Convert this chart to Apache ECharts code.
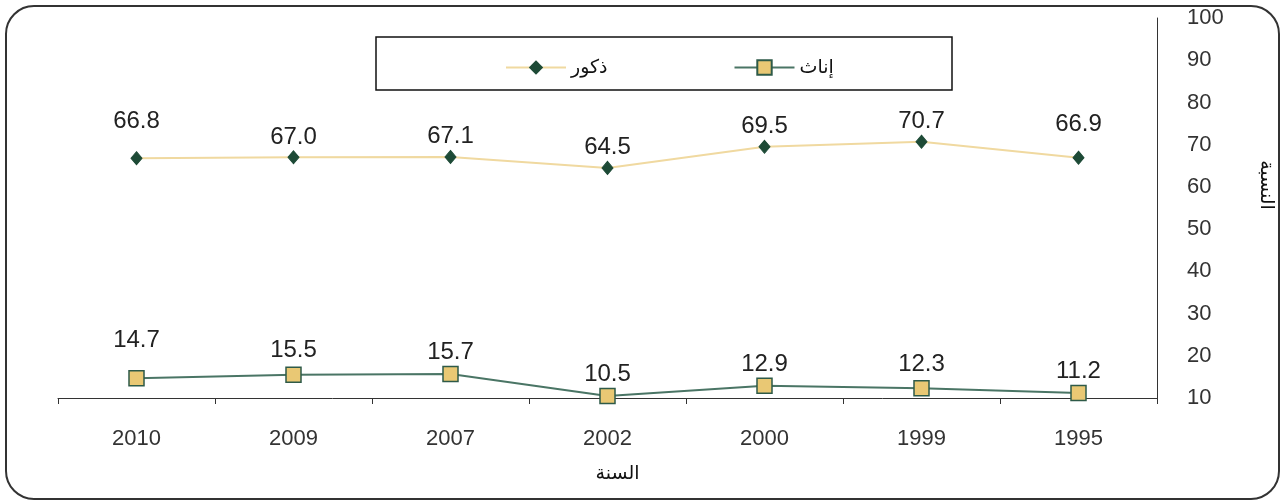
<!DOCTYPE html>
<html>
<head>
<meta charset="utf-8">
<script src="https://cdn.jsdelivr.net/npm/echarts@6/dist/echarts.min.js"></script>
<style>
html,body{margin:0;padding:0;background:#fff;}
#main{width:1283px;height:503px;}
</style>
</head>
<body>
<div id="main"></div>
<script>
// السنوات كما تظهر من اليسار إلى اليمين
var years = ['2010', '2009', '2007', '2002', '2000', '1999', '1995'];
var males = [66.8, 67.0, 67.1, 64.5, 69.5, 70.7, 66.9];
var females = [14.7, 15.5, 15.7, 10.5, 12.9, 12.3, 11.2];
var yTicks = [10, 20, 30, 40, 50, 60, 70, 80, 90, 100];

var myChart = echarts.init(document.getElementById('main'));
var narrow = '"Liberation Sans Narrow", "Liberation Sans", Arial, sans-serif';
var arabic = '"Noto Sans", "DejaVu Sans", sans-serif';

// بعض التسميات مرفوعة أكثر من غيرها في الأصل
var maleLift = {0: 17, 6: 13};
var femaleLift = {0: 17, 1: 3, 5: 3};

function mk(arr, lift) {
    return arr.map(function (v, i) {
        var d = {value: v};
        if (lift[i]) d.label = {offset: [0, -lift[i]]};
        return d;
    });
}

var labelStyle = {
    show: true,
    position: 'top',
    distance: 1,
    fontFamily: narrow,
    fontSize: 24,
    color: '#222',
    formatter: function (p) { return p.value.toFixed(1); }
};

option = {
    animation: false,
    backgroundColor: '#fff',
    grid: {left: 58, right: 126, top: 18, bottom: 105, outerBoundsMode: 'none', containLabel: false},
    legend: {
        data: ['ذكور', 'إناث'],
        left: 500,
        top: 53,
        itemWidth: 60,
        itemHeight: 18,
        itemGap: 126,
        textStyle: {fontFamily: arabic, fontSize: 19, color: '#111'}
    },
    xAxis: {
        type: 'category',
        data: years,
        name: 'السنة',
        nameLocation: 'middle',
        nameGap: 66,
        nameTextStyle: {fontFamily: arabic, fontSize: 19, color: '#111', padding: [0, 0, 0, 20]},
        axisLine: {lineStyle: {color: '#333', width: 1}},
        axisTick: {show: true, length: 6, lineStyle: {color: '#333'}},
        axisLabel: {margin: 30, fontFamily: narrow, fontSize: 22, color: '#333'}
    },
    yAxis: {
        type: 'value',
        position: 'right',
        min: 10,
        max: 100,
        interval: 10,
        name: 'النسبة',
        nameLocation: 'middle',
        nameGap: 100,
        nameRotate: -90,
        nameTextStyle: {fontFamily: arabic, fontSize: 19, color: '#111', padding: [0, 46, 0, 0]},
        splitLine: {show: false},
        axisLine: {show: true, lineStyle: {color: '#333', width: 1}},
        axisTick: {show: false},
        axisLabel: {
            margin: 30,
            fontFamily: narrow,
            fontSize: 22,
            color: '#333',
            formatter: function (v) { return yTicks.indexOf(v) >= 0 ? v : ''; }
        }
    },
    series: [
        {
            name: 'ذكور',
            type: 'line',
            data: mk(males, maleLift),
            symbol: 'diamond',
            symbolSize: [11, 13],
            itemStyle: {color: '#1d4a36', borderColor: '#1d4a36'},
            lineStyle: {color: '#f0d9a0', width: 2},
            label: labelStyle
        },
        {
            name: 'إناث',
            type: 'line',
            data: mk(females, femaleLift),
            symbol: 'rect',
            symbolSize: 15,
            itemStyle: {color: '#e9c874', borderColor: '#2e5a48', borderWidth: 1.5},
            lineStyle: {color: '#4a7565', width: 2},
            label: labelStyle
        }
    ],
    graphic: [
        {
            type: 'rect',
            shape: {x: 6, y: 6, width: 1273, height: 493, r: 28},
            style: {fill: 'none', stroke: '#333', lineWidth: 2},
            silent: true,
            z: -1
        },
        {
            type: 'rect',
            shape: {x: 376, y: 37, width: 576, height: 53},
            style: {fill: 'none', stroke: '#111', lineWidth: 1.5},
            silent: true,
            z: -1
        }
    ]
};

myChart.setOption(option);
</script>
</body>
</html>
